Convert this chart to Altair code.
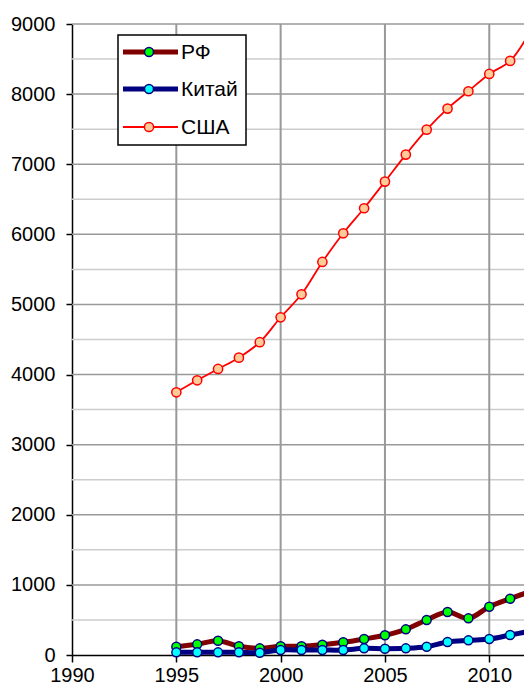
import altair as alt
import pandas as pd

# ---- data ----
years = list(range(1995, 2013))
rf_values = [118, 152, 204, 124, 95, 124, 124, 147, 181, 228, 281, 366, 499, 613, 523, 689, 803, 908]
china_values = [38, 38, 38, 38, 33, 71, 71, 71, 71, 95, 90, 95, 118, 185, 209, 228, 285, 342]
usa_values = [3747, 3918, 4080, 4241, 4461, 4817, 5145, 5606, 6015, 6372, 6752, 7137, 7493, 7793, 8041, 8288, 8474, 8916]
series_names = ["РФ", "Китай", "США"]
x_ticks = [1990, 1995, 2000, 2005, 2010]
y_ticks = list(range(0, 9001, 1000))
h_grid = list(range(500, 9001, 500))
v_grid = [1995, 2000, 2005, 2010, 2012]

FONT = "Liberation Sans"
# visible plot width is cut by the window on the right, as in the reference
PLOT_W, PLOT_H = 452, 631
FULL_W = 459

XS = alt.Scale(domain=[1990, 2012], nice=False, zero=False, range=[0, FULL_W])
YS = alt.Scale(domain=[0, 9000], nice=False)
X_AX = alt.Axis(values=x_ticks, format="d", title=None, grid=False, labelPadding=3, tickSize=7,
                labelFlush=False)
Y_AX = alt.Axis(values=y_ticks, format="d", title=None, grid=False, labelPadding=11, tickSize=6,
                labelFlush=False)

styles = {
    "РФ": dict(line="#800000", width=5, fill="#00FF00", stroke="#000080", size=80),
    "Китай": dict(line="#000080", width=5, fill="#00FFFF", stroke="#000080", size=80),
    "США": dict(line="#FF0000", width=1.8, fill="#FFCC99", stroke="#FF0000", size=85),
}
values = {"РФ": rf_values, "Китай": china_values, "США": usa_values}

# grid
hg = pd.DataFrame({"v": h_grid, "major": [v % 1000 == 0 for v in h_grid]})
hgrid = alt.Chart(hg).mark_rule(strokeWidth=1.5).encode(
    y=alt.Y("v:Q", scale=YS, axis=Y_AX),
    color=alt.condition("datum.major", alt.value("#999999"), alt.value("#CCCCCC")),
)
vg = pd.DataFrame({"x": v_grid})
vgrid = alt.Chart(vg).mark_rule(strokeWidth=2, color="#999999").encode(
    x=alt.X("x:Q", scale=XS, axis=X_AX),
)

layers = [hgrid, vgrid]
for name in series_names:
    st = styles[name]
    df = pd.DataFrame({"year": years, "value": values[name]})
    base = alt.Chart(df).encode(
        x=alt.X("year:Q", scale=XS, axis=X_AX),
        y=alt.Y("value:Q", scale=YS, axis=Y_AX),
    )
    layers.append(base.mark_line(color=st["line"], strokeWidth=st["width"], interpolate="catmull-rom"))
    layers.append(base.mark_point(shape="circle", filled=True, fill=st["fill"], stroke=st["stroke"],
                                  strokeWidth=1.5, size=st["size"], opacity=1))

# legend (pixel layout relative to plot area)
box = alt.Chart(pd.DataFrame({"a": [0]})).mark_rect(fill="white", stroke="black", strokeWidth=1.5).encode(
    x=alt.value(46), x2=alt.value(174), y=alt.value(11), y2=alt.value(121)
)
layers.append(box)
leg_y = [28, 65, 103]
for name, yy in zip(series_names, leg_y):
    st = styles[name]
    one = alt.Chart(pd.DataFrame({"s": [name]}))
    layers.append(one.mark_rule(color=st["line"], strokeWidth=st["width"]).encode(
        x=alt.value(51), x2=alt.value(106), y=alt.value(yy)))
    layers.append(one.mark_point(shape="circle", filled=True, fill=st["fill"], stroke=st["stroke"],
                                 strokeWidth=1.5, size=st["size"], opacity=1).encode(
        x=alt.value(77), y=alt.value(yy)))
    layers.append(one.mark_text(align="left", baseline="middle", font=FONT, fontSize=21, color="black").encode(
        x=alt.value(109), y=alt.value(yy + 1), text="s:N"))

chart = alt.layer(*layers).properties(
    width=PLOT_W, height=PLOT_H,
    autosize=alt.AutoSizeParams(type="none"),
    padding={"left": 64, "top": 16, "right": 0, "bottom": 32},
).configure_view(stroke=None).configure_axis(
    domainColor="black", domainWidth=1.5, tickColor="black", tickWidth=1.5,
    labelFont=FONT, labelFontSize=20, labelColor="black",
)

chart.save("out.html", embed_options={"renderer": "svg", "actions": False})
